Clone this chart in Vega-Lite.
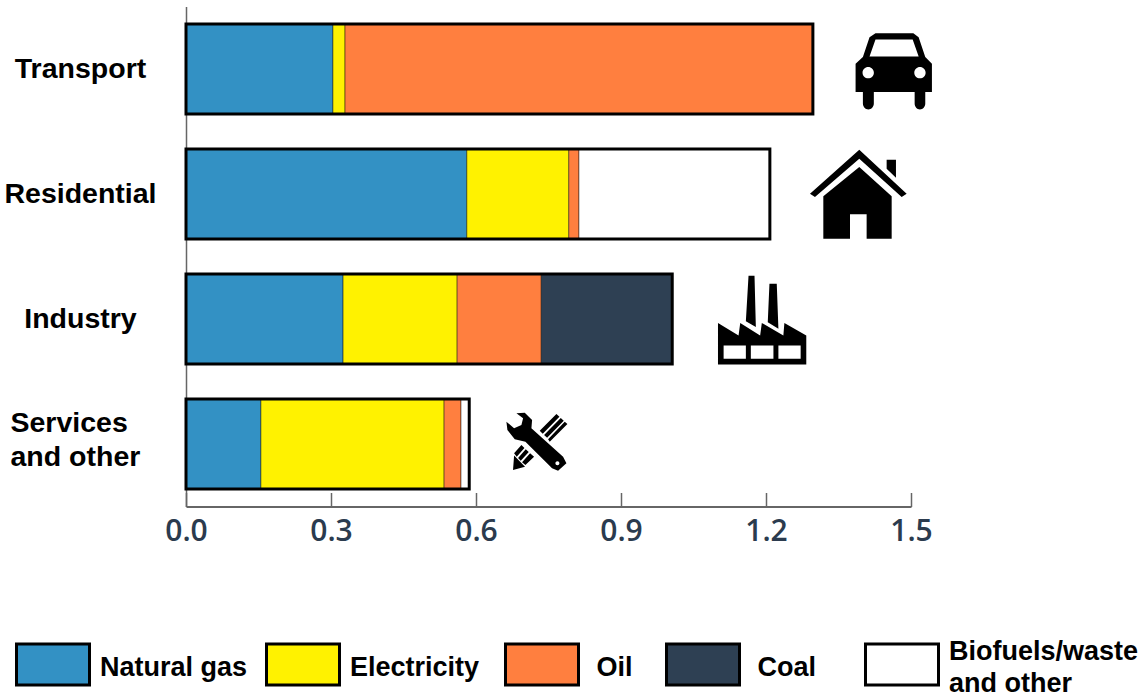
{
  "$schema": "https://vega.github.io/schema/vega-lite/v6.json",
  "width": 725,
  "height": 500,
  "autosize": "none",
  "padding": {"left": 186, "top": 6.5, "right": 235, "bottom": 189.5},
  "background": "white",
  "config": {"view": {"stroke": null}},
  "layer": [
    {
      "data": {
        "values": [
          {"sector": "Transport", "source": "Natural gas", "rank": 1, "value": 0.304},
          {"sector": "Transport", "source": "Electricity", "rank": 2, "value": 0.025},
          {"sector": "Transport", "source": "Oil", "rank": 3, "value": 0.968},
          {"sector": "Residential", "source": "Natural gas", "rank": 1, "value": 0.581},
          {"sector": "Residential", "source": "Electricity", "rank": 2, "value": 0.211},
          {"sector": "Residential", "source": "Oil", "rank": 3, "value": 0.021},
          {"sector": "Residential", "source": "Biofuels/waste and other", "rank": 5, "value": 0.395},
          {"sector": "Industry", "source": "Natural gas", "rank": 1, "value": 0.325},
          {"sector": "Industry", "source": "Electricity", "rank": 2, "value": 0.236},
          {"sector": "Industry", "source": "Oil", "rank": 3, "value": 0.174},
          {"sector": "Industry", "source": "Coal", "rank": 4, "value": 0.271},
          {"sector": "Services and other", "source": "Natural gas", "rank": 1, "value": 0.155},
          {"sector": "Services and other", "source": "Electricity", "rank": 2, "value": 0.379},
          {"sector": "Services and other", "source": "Oil", "rank": 3, "value": 0.035},
          {"sector": "Services and other", "source": "Biofuels/waste and other", "rank": 5, "value": 0.017}
        ]
      },
      "layer": [
        {
          "mark": {"type": "bar", "stroke": "#000000", "strokeOpacity": 0.45, "strokeWidth": 1},
          "encoding": {
            "x": {
              "field": "value",
              "type": "quantitative",
              "stack": "zero",
              "title": null,
              "scale": {"domain": [0, 1.5], "nice": false},
              "axis": {
                "values": [0, 0.3, 0.6, 0.9, 1.2, 1.5],
                "format": ".1f",
                "grid": false,
                "tickSize": -14,
                "tickColor": "#666666",
                "tickWidth": 1.5,
                "domainColor": "#666666",
                "domainWidth": 2,
                "labelFont": "Open Sans",
                "labelFontSize": 30,
                "labelFontWeight": 600,
                "labelColor": "#2b3b4e",
                "labelFlush": false,
                "labelPadding": 24
              }
            },
            "y": {
              "field": "sector",
              "type": "nominal",
              "title": null,
              "sort": null,
              "scale": {
                "domain": ["Transport", "Residential", "Industry", "Services and other"],
                "paddingInner": 0.28,
                "paddingOuter": 0.14
              },
              "axis": {
                "ticks": false,
                "domainColor": "#666666",
                "domainWidth": 1.5,
                "labelFont": "Liberation Sans",
                "labelFontWeight": "bold",
                "labelFontSize": 28.5,
                "labelColor": "#000000",
                "labelAlign": {"condition": {"test": "datum.value === 'Services and other'", "value": "left"}, "value": "center"},
                "labelBaseline": "middle",
                "labelPadding": {"condition": {"test": "datum.value === 'Services and other'", "value": 176}, "value": 106},
                "labelOffset": {"condition": {"test": "datum.value === 'Services and other'", "value": -21}, "value": 0},
                "labelLimit": 300,
                "labelLineHeight": 34,
                "labelExpr": "datum.label === 'Services and other' ? ['Services', 'and other'] : datum.label"
              }
            },
            "color": {
              "field": "source",
              "type": "nominal",
              "scale": {
                "domain": ["Natural gas", "Electricity", "Oil", "Coal", "Biofuels/waste and other"],
                "range": ["#3391c4", "#fff200", "#ff7f3f", "#2e4053", "#ffffff"]
              },
              "legend": {
                "title": null,
                "orient": "none",
                "legendX": -171,
                "legendY": 607,
                "direction": "horizontal",
                "columns": 5,
                "padding": 0,
                "columnPadding": 12,
                "symbolType": "M-1,-0.206H1V0.918H-1Z",
                "symbolSize": 5329,
                "symbolStrokeColor": "#000000",
                "symbolStrokeWidth": 3,
                "symbolOpacity": 1,
                "labelFont": "Liberation Sans",
                "labelFontWeight": "bold",
                "labelFontSize": 27,
                "labelColor": "#000000",
                "labelOffset": 9,
                "labelLimit": 300,
                "encoding": {"labels": {"lineHeight": {"value": 16}}},
                "labelExpr": "datum.label === 'Biofuels/waste and other' ? ['Biofuels/waste', '\u00a0\u200b', 'and other'] : datum.label === 'Electricity' ? ['\u00a0\u200b', 'Electricity\u00a0\u200b', '\u00a0\u200b'] : datum.label === 'Oil' ? ['\u00a0\u200b', '\u200b\u00a0Oil\u00a0\u00a0\u200b', '\u00a0\u200b'] : datum.label === 'Coal' ? ['\u00a0\u200b', '\u200b\u00a0Coal\u00a0\u00a0\u00a0\u00a0\u200b', '\u00a0\u200b'] : ['\u00a0\u200b', datum.label, '\u00a0\u200b']"
              }
            },
            "order": {"field": "rank", "type": "ordinal"}
          }
        },
        {
          "mark": {"type": "bar", "fillOpacity": 0, "stroke": "#000000", "strokeWidth": 3},
          "encoding": {
            "x": {"aggregate": "sum", "field": "value", "type": "quantitative", "stack": null},
            "y": {"field": "sector", "type": "nominal"}
          }
        }
      ]
    },
    {
      "data": {"values": [{"sector": "Transport", "value": 1.465}]},
      "mark": {
        "type": "point",
        "filled": true,
        "fill": "#000000",
        "opacity": 1,
        "size": 5929,
        "yOffset": 2,
        "shape": "M-0.483,-0.983L0.5,-0.983L0.638,-0.879L0.81,-0.362L0.983,-0.19L0.983,0.543L0.81,0.543L0.81,0.845A0.138,0.155 0 0 1 0.534,0.845L0.534,0.543L-0.526,0.543L-0.526,0.845A0.142,0.155 0 0 1 -0.81,0.845L-0.81,0.543L-1,0.543L-1,-0.19L-0.81,-0.362L-0.638,-0.879ZM-0.483,-0.819L-0.638,-0.379L0.638,-0.379L0.483,-0.819ZM-0.819,0.043A0.147,0.147 0 1 0 -0.525,0.043A0.147,0.147 0 1 0 -0.819,0.043ZM0.525,0.043A0.147,0.147 0 1 0 0.819,0.043A0.147,0.147 0 1 0 0.525,0.043Z"
      },
      "encoding": {
        "x": {"field": "value", "type": "quantitative"},
        "y": {"field": "sector", "type": "nominal"}
      }
    },
    {
      "data": {"values": [{"sector": "Residential", "value": 1.391}]},
      "mark": {
        "type": "point",
        "filled": true,
        "fill": "#000000",
        "opacity": 1,
        "size": 9344,
        "shape": "M0.02,-0.917L1,-0.007L0.897,0.062L0.02,-0.731L-0.897,0.062L-1,-0.007ZM0.586,-0.71L0.779,-0.71L0.779,-0.338L0.586,-0.524ZM0.02,-0.559L0.69,0.048L0.69,0.924L0.172,0.924L0.172,0.421L-0.172,0.421L-0.172,0.924L-0.724,0.924L-0.724,0.048Z"
      },
      "encoding": {
        "x": {"field": "value", "type": "quantitative"},
        "y": {"field": "sector", "type": "nominal"}
      }
    },
    {
      "data": {"values": [{"sector": "Industry", "value": 1.192}]},
      "mark": {
        "type": "point",
        "filled": true,
        "fill": "#000000",
        "opacity": 1,
        "size": 7860,
        "yOffset": 1,
        "shape": "M-0.996,0.067L-0.532,0.352L-0.494,0.067L-0.045,0.352L-0.007,0.067L0.479,0.352L0.502,0.067L0.996,0.352L0.996,1.004L-0.996,1.004ZM-0.869,0.577L-0.869,0.876L-0.367,0.876L-0.367,0.577ZM-0.255,0.577L-0.255,0.876L0.255,0.876L0.255,0.577ZM0.367,0.577L0.367,0.876L0.869,0.876L0.869,0.577ZM-0.307,-0.996L-0.172,-0.996L-0.142,0.157L-0.367,0.03ZM0.165,-0.816L0.33,-0.816L0.367,0.195L0.127,0.052Z"
      },
      "encoding": {
        "x": {"field": "value", "type": "quantitative"},
        "y": {"field": "sector", "type": "nominal"}
      }
    },
    {
      "data": {"values": [{"sector": "Services and other", "value": 0.725}]},
      "mark": {
        "type": "point",
        "filled": true,
        "fill": "#000000",
        "opacity": 1,
        "size": 3600,
        "yOffset": -3,
        "shape": "M-0.667,-0.922L-0.389,-0.944L-0.144,-0.7L-0.167,-0.422L0.889,0.522L1,0.744L0.722,0.989L0.522,0.911L-0.367,0.022L-0.722,-0.056L-0.967,-0.367L-1,-0.644L-0.744,-0.422L-0.5,-0.533L-0.444,-0.756ZM0.633,0.744A0.067,0.067 0 1 0 0.767,0.744A0.067,0.067 0 1 0 0.633,0.744ZM0.667,-0.9L0.767,-0.811L0.211,-0.244L0.111,-0.344ZM0.811,-0.767L0.911,-0.678L0.356,-0.111L0.256,-0.2ZM0.944,-0.644L1.033,-0.567L0.444,0.022L0.389,-0.056ZM-0.5,0.133L-0.4,0.233L-0.656,0.522L-0.744,0.411ZM-0.356,0.278L-0.256,0.367L-0.522,0.656L-0.611,0.567ZM-0.211,0.411L-0.078,0.522L-0.367,0.8L-0.478,0.711ZM-0.744,0.48L-0.38,0.86L-0.78,0.97Z"
      },
      "encoding": {
        "x": {"field": "value", "type": "quantitative"},
        "y": {"field": "sector", "type": "nominal"}
      }
    }
  ]
}
